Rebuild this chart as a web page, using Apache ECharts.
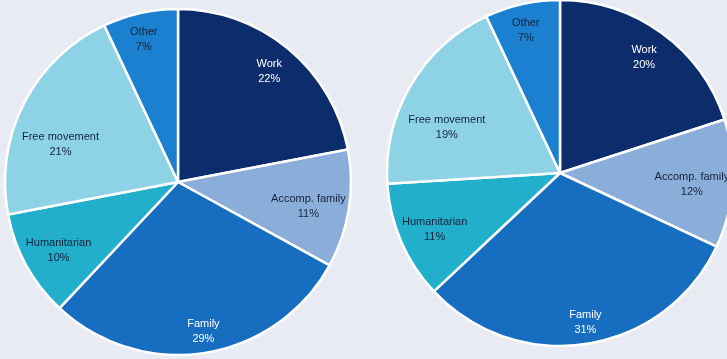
<!DOCTYPE html>
<html>
<head>
<meta charset="utf-8">
<script src="https://cdn.jsdelivr.net/npm/echarts@6/dist/echarts.min.js"></script>
<style>
  html, body { margin: 0; padding: 0; background: #e8ebf4; }
  #chart { width: 727px; height: 359px; }
</style>
</head>
<body>
<div id="chart"></div>
<script>
// Migration routes by category, two periods, shares in percent
const categories = ['Work', 'Accomp. family', 'Family', 'Humanitarian', 'Free movement', 'Other'];
const leftValues = [22, 11, 29, 10, 21, 7];
const rightValues = [20, 12, 31, 11, 19, 7];

// Slice fill, label text colour and small label nudges per category
const sliceStyle = {
  'Work':           { color: '#0c2c6c', text: '#ffffff', nudge: [0, 0] },
  'Accomp. family': { color: '#8badd9', text: '#14233c', nudge: [-11, 2] },
  'Family':         { color: '#176dc0', text: '#ffffff', nudge: [3, 8] },
  'Humanitarian':   { color: '#22afcb', text: '#14233c', nudge: [6, 0] },
  'Free movement':  { color: '#8ed3e5', text: '#14233c', nudge: [10, 27] },
  'Other':          { color: '#1a80cf', text: '#14233c', nudge: [-3, -3] }
};

function pieData(values) {
  return categories.map((name, i) => ({
    name: name,
    value: values[i],
    itemStyle: { color: sliceStyle[name].color }
  }));
}

function labelData(values) {
  return categories.map((name, i) => ({
    name: name,
    value: values[i],
    itemStyle: { color: 'rgba(0,0,0,0)' },
    label: { color: sliceStyle[name].text, offset: sliceStyle[name].nudge }
  }));
}

function pieSeries(center, radius, values) {
  return [
    {
      type: 'pie',
      center: center,
      radius: [0, radius],
      startAngle: 90,
      clockwise: true,
      silent: true,
      animation: false,
      label: { show: false },
      labelLine: { show: false },
      itemStyle: { borderColor: '#ffffff', borderWidth: 2.5 },
      data: pieData(values)
    },
    {
      // transparent ring that carries the labels further out in each slice
      type: 'pie',
      center: center,
      radius: [radius * 0.62, radius],
      startAngle: 90,
      clockwise: true,
      silent: true,
      animation: false,
      itemStyle: { borderWidth: 0 },
      label: {
        show: true,
        position: 'inside',
        formatter: p => p.name + '\n' + p.value + '%',
        fontFamily: 'Liberation Sans, Arial, sans-serif',
        fontSize: 11,
        lineHeight: 15,
        align: 'center'
      },
      labelLine: { show: false },
      data: labelData(values)
    }
  ];
}

const chart = echarts.init(document.getElementById('chart'), null, { renderer: 'canvas' });
chart.setOption({
  backgroundColor: '#e8ebf4',
  series: [
    ...pieSeries([178, 182], 173, leftValues),
    ...pieSeries([560, 173], 173, rightValues)
  ]
});
</script>
</body>
</html>
